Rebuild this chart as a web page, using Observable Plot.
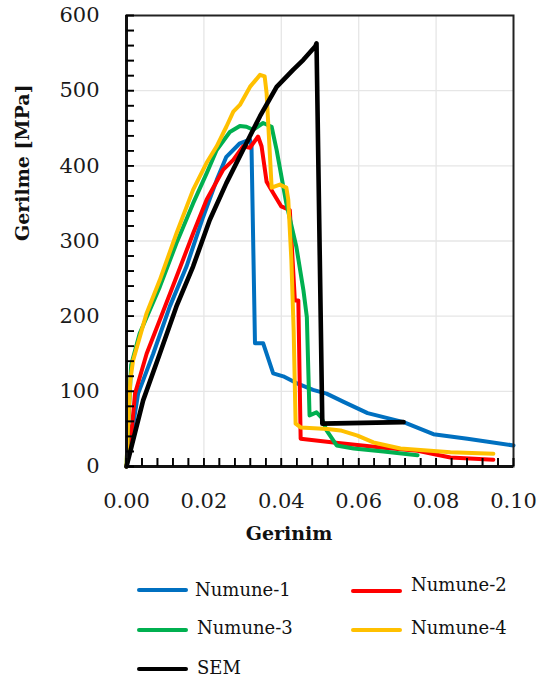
<!DOCTYPE html>
<html><head><meta charset="utf-8">
<script src="https://cdn.jsdelivr.net/npm/d3@7"></script>
<script src="https://cdn.jsdelivr.net/npm/@observablehq/plot@0.6"></script>
<style>
body{margin:0;background:#fff;}
#wrap{position:relative;width:539px;height:682px;font-family:"DejaVu Serif",serif;}
#legend{position:absolute;left:0;top:560px;width:539px;height:122px;}
.sw{position:absolute;height:4px;border-radius:2px;}
.lb{position:absolute;font-size:18px;line-height:20px;color:#111;white-space:nowrap;}
</style></head><body><div id="wrap"><div id="chart"></div><div id="legend"></div></div>
<script>
const seriesNames = ["Numune-1", "Numune-2", "Numune-3", "Numune-4", "SEM"];
const seriesColors = ["#0070C0", "#FF0000", "#00B050", "#FFC000", "#000000"];

const strainN1 = [0,0.0030,0.0069,0.0112,0.0155,0.0198,0.0233,0.0258,0.0293,0.0319,0.0323,0.0332,0.0353,0.0379,0.0405,0.0439,0.0482,0.0517,0.0561,0.0623,0.0716,0.0793,0.0881,0.1000];
const stressN1 = [0,97,150,213,266,332,381,412,430,435,426,164,164,124,120,111,102,97,86,71,59,43,37,28];

const strainN2 = [0,0.0015,0.0022,0.0052,0.0086,0.0129,0.0172,0.0207,0.0250,0.0276,0.0301,0.0319,0.0340,0.0349,0.0362,0.0379,0.0400,0.0422,0.0435,0.0444,0.0450,0.0535,0.0664,0.0752,0.0837,0.0948];
const stressN2 = [0,57,97,150,195,252,310,355,395,408,426,424,439,426,379,364,346,341,221,221,37,32,25,21,12,9];

const strainN3 = [0,0.0004,0.0012,0.0034,0.0086,0.0129,0.0172,0.0207,0.0233,0.0267,0.0293,0.0310,0.0327,0.0353,0.0375,0.0388,0.0413,0.0439,0.0457,0.0466,0.0473,0.0491,0.0504,0.0517,0.0543,0.0587,0.0664,0.0752];
const stressN3 = [0,50,135,177,239,297,350,390,421,445,453,452,448,457,452,421,350,292,235,199,68,72,65,48,28,24,20,15];

const strainN4 = [0,0.0004,0.0010,0.0017,0.0052,0.0086,0.0129,0.0172,0.0207,0.0233,0.0258,0.0276,0.0293,0.0319,0.0345,0.0357,0.0362,0.0375,0.0396,0.0413,0.0418,0.0426,0.0432,0.0437,0.0450,0.0519,0.0553,0.0597,0.0638,0.0708,0.0837,0.0948];
const stressN4 = [0,55,115,141,204,248,310,368,404,426,452,472,481,505,521,519,497,371,375,371,355,275,180,57,52,50,48,41,32,24,19,17];

const strainSEM = [0,0.0043,0.0086,0.0129,0.0172,0.0215,0.0258,0.0301,0.0345,0.0388,0.0431,0.0457,0.0488,0.0491,0.0506,0.0716];
const stressSEM = [0,88,150,213,266,328,377,421,466,505,528,541,559,563,57,59];

const xMajor = [0, 0.02, 0.04, 0.06, 0.08, 0.10];
const xMinor = d3.range(0, 0.1001, 0.004);
const yMajor = [0, 100, 200, 300, 400, 500, 600];
const yMinor = d3.range(0, 601, 20);

const strains = [strainN1, strainN2, strainN3, strainN4, strainSEM];
const stresses = [stressN1, stressN2, stressN3, stressN4, stressSEM];
const rows = [];
seriesNames.forEach((name, i) => {
  strains[i].forEach((s, j) => rows.push({series: name, strain: s, stress: stresses[i][j]}));
});
const widthOf = name => name === "SEM" ? 4.6 : 4;

const W = 539, H = 560, mL = 126, mR = 26, mT = 15, mB = 94;
const frameW = W - mL - mR, frameH = H - mT - mB, tickLen = 8;

const font = "DejaVu Serif, serif";
const chart = Plot.plot({
  width: W, height: H,
  marginLeft: mL, marginRight: mR, marginTop: mT, marginBottom: mB,
  style: {fontFamily: font, background: "#fff"},
  x: {domain: [0, 0.1]},
  y: {domain: [0, 600]},
  color: {domain: seriesNames, range: seriesColors},
  marks: [
    Plot.gridX(xMajor.slice(1, -1), {stroke: "#e6e6e6", strokeOpacity: 1, strokeWidth: 1.3}),
    Plot.gridY(yMajor.slice(1, -1), {stroke: "#e6e6e6", strokeOpacity: 1, strokeWidth: 1.3}),
    ...seriesNames.map(name => Plot.line(rows.filter(r => r.series === name), {
      x: "strain", y: "stress", stroke: "series",
      strokeWidth: widthOf(name), strokeLinejoin: "round", strokeLinecap: "round", curve: "linear"})),
    Plot.frame({stroke: "#222", strokeWidth: 2}),
    Plot.ruleX([0], {stroke: "#111", strokeWidth: 3}),
    Plot.ruleY([0], {stroke: "#111", strokeWidth: 3}),
    Plot.axisX(xMajor, {tickSize: 0, tickPadding: 27, fontSize: 21, tickFormat: d3.format(".2f"), label: null, fill: "#1a1a1a"}),
    Plot.axisY(yMajor, {tickSize: 0, tickPadding: 27, fontSize: 21, tickFormat: d3.format("d"), label: null, fill: "#1a1a1a"}),
    Plot.text(["Gerilme [MPa]"], {frameAnchor: "left", dx: -104, rotate: -90, fontSize: 19, fontWeight: "bold", fill: "#111"}),
    Plot.text(["Gerinim"], {frameAnchor: "bottom", dx: -31, dy: 73, fontSize: 19, fontWeight: "bold", fill: "#111"}),
    Plot.ruleX(xMinor, {x: d => d, insetTop: frameH - tickLen, stroke: "black", strokeWidth: 1.6}),
    Plot.ruleY(yMinor, {y: d => d, insetRight: frameW - tickLen, stroke: "black", strokeWidth: 1.6}),
    Plot.axisX(xMinor, {anchor: "bottom", tickSize: tickLen, dy: -tickLen, tickFormat: () => "", label: null, stroke: "black", strokeWidth: 1.6}),
    Plot.axisY(yMinor, {anchor: "left", tickSize: tickLen, dx: tickLen, tickFormat: () => "", label: null, stroke: "black", strokeWidth: 1.6})
  ]
});
document.getElementById("chart").appendChild(chart);

// legend (positions in px inside legend box, which starts at y=560)
const legendLayout = [
  {sx: 137, sy: 30, tx: 195, ty: 30},
  {sx: 351, sy: 31, tx: 411, ty: 25},
  {sx: 137, sy: 70, tx: 197, ty: 68},
  {sx: 351, sy: 70, tx: 411, ty: 68},
  {sx: 137, sy: 109, tx: 197, ty: 108}
];
const legend = document.getElementById("legend");
seriesNames.forEach((name, i) => {
  const L = legendLayout[i];
  const sw = document.createElement("div");
  sw.className = "sw";
  sw.style.left = L.sx + "px"; sw.style.top = (L.sy - 2) + "px";
  sw.style.width = "51px"; sw.style.background = seriesColors[i];
  legend.appendChild(sw);
  const lb = document.createElement("div");
  lb.className = "lb";
  lb.style.left = L.tx + "px"; lb.style.top = (L.ty - 10) + "px";
  lb.textContent = name;
  legend.appendChild(lb);
});
</script></body></html>
